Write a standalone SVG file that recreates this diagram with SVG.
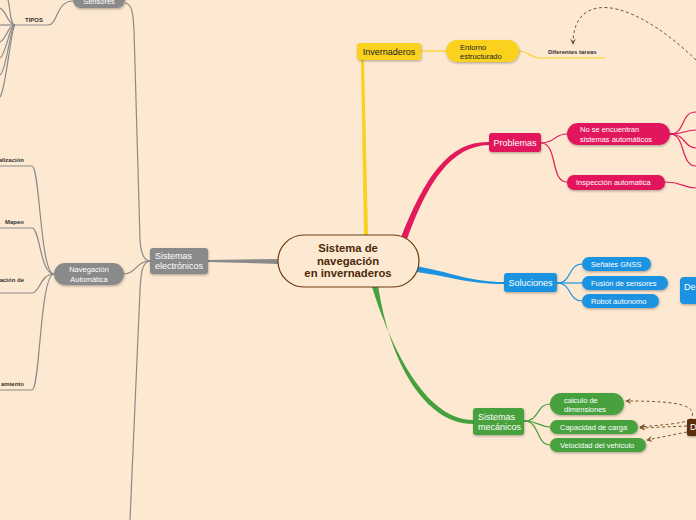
<svg xmlns="http://www.w3.org/2000/svg" width="696" height="520" viewBox="0 0 696 520">
<defs>
<filter id="sh" x="-20%" y="-20%" width="140%" height="160%"><feDropShadow dx="0.5" dy="1.2" stdDeviation="0.8" flood-color="#000" flood-opacity="0.3"/></filter>
<marker id="ah" viewBox="0 0 8 8" refX="7" refY="4" markerWidth="6" markerHeight="6" orient="auto"><path d="M0,0 L8,4 L0,8 L3,4 Z" fill="#7a5530"/></marker>
<style>
text{font-family:"Liberation Sans",Arial,sans-serif}
.w{fill:#fff}
.s7{font-size:7.5px}
.s9{font-size:9px}
.lbl{font-size:6px;fill:#333;font-weight:bold}
.gl{stroke:#8a8a8a;fill:none;stroke-width:1.2}
.pl{stroke:#e2195b;fill:none;stroke-width:1.2}
.bl{stroke:#1b93e0;fill:none;stroke-width:1.2}
.grl{stroke:#46a13c;fill:none;stroke-width:1.2}
.yl{stroke:#fad11d;fill:none;stroke-width:1.2}
.dash{stroke:#7a5530;fill:none;stroke-width:1;stroke-dasharray:3,2.5}
.gray{fill:#8a8a8a}
.pink{fill:#e2195b}
.blue{fill:#1b93e0}
.green{fill:#46a13c}
.yel{fill:#fad11d}
.ct{font-size:11.3px;font-weight:bold;fill:#4a2a0a}
</style>
</defs>
<rect width="696" height="520" fill="#fde8d1"/>
<g id="connectors">
<path d="M361,60 L364,236 L368,236 L364,60 Z" fill="#fad11d"/>
<path d="M421,51 L446,51" class="yl"/>
<path d="M519,51 C528,51 530,58 540,58 L605,58" class="yl"/>
<path d="M400,240 C425,175 450,141 489,142 L489,145 C452,146 428,180 406,242 Z" fill="#e2195b"/>
<path d="M541,143 C556,143 553,134 567,134" class="pl"/>
<path d="M541,143 C558,143 550,182 567,182" class="pl"/>
<path d="M670,134 C686,134 680,112 696,112" class="pl"/>
<path d="M670,134 C686,134 684,130 696,130" class="pl"/>
<path d="M670,134 C686,134 684,148 696,148" class="pl"/>
<path d="M670,134 C686,134 680,166 696,166" class="pl"/>
<path d="M665,182 C682,182 684,188 696,188" class="pl"/>
<path d="M416,266 C450,272 470,282 504,282 L504,284 C468,284 448,276 416,272 Z" fill="#1b93e0"/>
<path d="M557,283 C572,283 568,264 582,264" class="bl"/>
<path d="M557,283 L582,283" class="bl"/>
<path d="M557,283 C572,283 568,301 582,301" class="bl"/>
<path d="M372,287 C395,360 430,420 473,420 L473,424 C426,424 390,365 378,285 Z" fill="#46a13c"/>
<path d="M524,421 C540,421 536,404 550,404" class="grl"/>
<path d="M524,421 C538,421 540,427 550,427" class="grl"/>
<path d="M524,421 C540,421 536,445 550,445" class="grl"/>
<path d="M278,259 L208,260 L208,262 L278,264 Z" fill="#8a8a8a"/>
<path d="M125,3 C132,4 133,12 134,30 L140,240 C141,255 144,261 150,261" class="gl"/>
<path d="M150,261 C143,262 141,270 140,290 L130,520" class="gl"/>
<path d="M150,261 C136,261 136,274 124,274" class="gl"/>
<path d="M54,274 C40,274 40,166 32,166 L0,166" class="gl"/>
<path d="M54,274 C40,274 40,228 32,228 L0,228" class="gl"/>
<path d="M54,274 C40,274 40,293 32,293 L0,293" class="gl"/>
<path d="M54,274 C40,274 40,390 32,390 L0,390" class="gl"/>
<path d="M73,1 C56,1 58,25 48,25 L15,25" class="gl"/>
<path d="M15,25 C10,25 10,5 8,0" class="gl"/>
<path d="M15,25 C8,25 6,10 0,8" class="gl"/>
<path d="M15,25 L0,25" class="gl"/>
<path d="M15,25 C8,25 6,40 0,42" class="gl"/>
<path d="M15,25 C9,26 6,55 0,58" class="gl"/>
<path d="M15,25 C10,26 7,70 0,75" class="gl"/>
<path d="M15,25 C11,27 6,90 0,97" class="gl"/>
<path d="M696,60 C660,25 622,4 598,8 C580,11 573,25 573,44" class="dash" marker-end="url(#ah)"/>
<path d="M690,421 C700,405 680,401 626,401" class="dash" marker-end="url(#ah)"/>
<path d="M690,420 C680,424 660,425 640,427" class="dash" marker-end="url(#ah)"/>
<path d="M687,426 L640,428" class="dash" marker-end="url(#ah)"/>
<path d="M687,432 L647,440" class="dash" marker-end="url(#ah)"/>
</g>
<g id="center">
<rect x="278" y="235" width="141" height="52" rx="26" fill="#fde8d1" stroke="#6b3a12" stroke-width="1.2"/>
<text x="348" y="252" text-anchor="middle" class="ct">Sistema de</text>
<text x="348" y="264.5" text-anchor="middle" class="ct">navegación</text>
<text x="348" y="277" text-anchor="middle" class="ct">en invernaderos</text>
</g>
<g id="invernaderos"><rect x="357" y="43" width="64" height="17" rx="3" class="yel" filter="url(#sh)"/><text x="389" y="55" text-anchor="middle" class="s9" fill="#222">Invernaderos</text></g>
<g id="entorno"><rect x="446" y="40" width="73" height="22" rx="11" class="yel" filter="url(#sh)"/><text x="460" y="49.5" class="s7" fill="#222">Entorno</text><text x="460" y="59" class="s7" fill="#222">estructurado</text></g>
<g id="diferentes"><text x="548" y="54" class="lbl">Diferentes tareas</text></g>
<g id="problemas"><rect x="489" y="133" width="52" height="19" rx="3" class="pink" filter="url(#sh)"/><text x="515" y="146" text-anchor="middle" class="s9 w">Problemas</text></g>
<g id="nose"><rect x="567" y="123" width="103" height="22" rx="11" class="pink" filter="url(#sh)"/><text x="580" y="132" class="s7 w">No se encuentran</text><text x="580" y="141.5" class="s7 w">sistemas automáticos</text></g>
<g id="inspeccion"><rect x="567" y="175" width="98" height="15" rx="7" class="pink" filter="url(#sh)"/><text x="576" y="185" class="s7 w">Inspección automatica</text></g>
<g id="soluciones"><rect x="504" y="273" width="53" height="19" rx="3" class="blue" filter="url(#sh)"/><text x="530.5" y="286" text-anchor="middle" class="s9 w">Soluciones</text></g>
<g id="gnss"><rect x="582" y="257" width="69" height="14" rx="7" class="blue" filter="url(#sh)"/><text x="591" y="267" class="s7 w">Señales GNSS</text></g>
<g id="fusion"><rect x="582" y="276" width="86" height="14" rx="7" class="blue" filter="url(#sh)"/><text x="591" y="286" class="s7 w">Fusión de sensores</text></g>
<g id="robot"><rect x="582" y="294" width="77" height="14" rx="7" class="blue" filter="url(#sh)"/><text x="591" y="304" class="s7 w">Robot autonomo</text></g>
<g id="de"><rect x="680" y="277" width="30" height="27" rx="4" class="blue" filter="url(#sh)"/><text x="684" y="290" class="s9 w">De</text></g>
<g id="mecanicos"><rect x="473" y="408" width="51" height="27" rx="3" class="green" filter="url(#sh)"/><text x="478" y="420" class="s9 w">Sistemas</text><text x="478" y="430" class="s9 w">mecánicos</text></g>
<g id="calculo"><rect x="550" y="393" width="74" height="22" rx="11" class="green" filter="url(#sh)"/><text x="564" y="402.5" class="s7 w">calculo de</text><text x="564" y="411.5" class="s7 w">dimensiones</text></g>
<g id="capacidad"><rect x="550" y="420" width="88" height="14" rx="7" class="green" filter="url(#sh)"/><text x="560" y="430" class="s7 w">Capacidad de carga</text></g>
<g id="velocidad"><rect x="550" y="438" width="96" height="14" rx="7" class="green" filter="url(#sh)"/><text x="560" y="448" class="s7 w">Velocidad del vehiculo</text></g>
<g id="dnode"><rect x="687" y="419" width="20" height="17" rx="2" fill="#5a2d08" filter="url(#sh)"/><text x="690" y="430" class="s9 w">D</text></g>
<g id="electronicos"><rect x="150" y="248" width="58" height="26" rx="3" class="gray" filter="url(#sh)"/><text x="155" y="259" class="s9 w">Sistemas</text><text x="155" y="269" class="s9 w">electrónicos</text></g>
<g id="sensores"><rect x="73" y="-8" width="52" height="16" rx="8" class="gray" filter="url(#sh)"/><text x="99" y="4" text-anchor="middle" class="s7 w">Sensores</text></g>
<g id="navegacion"><rect x="54" y="263" width="70" height="22" rx="11" class="gray" filter="url(#sh)"/><text x="89" y="272" text-anchor="middle" class="s7 w">Navegación</text><text x="89" y="281.5" text-anchor="middle" class="s7 w">Automática</text></g>
<g id="tipos"><text x="25" y="22" class="lbl">TIPOS</text></g>
<g id="localizacion"><text x="24" y="162" text-anchor="end" class="lbl">alización</text></g>
<g id="mapeo"><text x="24" y="224" text-anchor="end" class="lbl">Mapeo</text></g>
<g id="planificacion"><text x="24" y="282" text-anchor="end" class="lbl">ación de</text></g>
<g id="seguimiento"><text x="24" y="386" text-anchor="end" class="lbl">amiento</text></g>
</svg>
